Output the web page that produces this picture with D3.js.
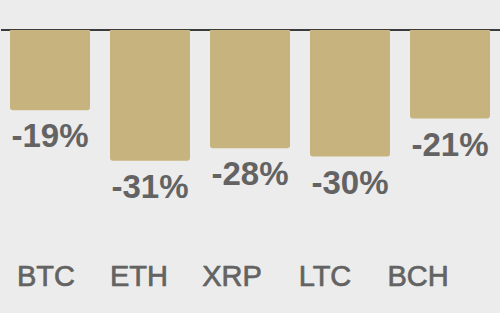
<!doctype html>
<html lang='en'>
  <head>
    <meta charset="utf-8">
    <script src="https://d3js.org/d3.v7.min.js"></script>
    <style>
    body{
      margin: 0;
      background: #ececec;
    }
    text {
      font-family: "Liberation Sans", Arial, sans-serif;
      fill: #636363;
    }
    </style>
  </head>
  <body>
    <div id='chart'></div>
    <script>
    const coins = ['BTC','ETH','XRP','LTC','BCH'];
    const changes = [-19,-31,-28,-30,-21];

    const w = 500;
    const h = 313;
    const top0 = 30;

    const svg = d3.select('#chart')
                  .append('svg')
                  .attr('width',w)
                  .attr('height',h);

    const xScale = d3.scaleBand()
                     .domain(coins)
                     .range([0,w])
                     .paddingInner(0.2)
                     .paddingOuter(0.1);

    const yScale = d3.scaleLinear()
                     .domain([-35,0])
                     .range([top0 + 35*4.22, top0]);

    // label row at the bottom is spaced on its own
    const labelScale = d3.scalePoint()
                         .domain(coins)
                         .range([46,418]);

    // bar with rounded bottom corners
    function barPath(x, y0, bw, y1, r) {
      return 'M' + x + ',' + y0 +
             'H' + (x+bw) +
             'V' + (y1-r) +
             'Q' + (x+bw) + ',' + y1 + ' ' + (x+bw-r) + ',' + y1 +
             'H' + (x+r) +
             'Q' + x + ',' + y1 + ' ' + x + ',' + (y1-r) +
             'Z';
    }

    svg.append('line')
       .attr('x1',1)
       .attr('x2',w)
       .attr('y1',yScale(0))
       .attr('y2',yScale(0))
       .attr('stroke','black')
       .attr('stroke-width',1.6);

    const data = coins.map((c,i) => ({coin: c, val: changes[i]}));

    svg.selectAll('path.bar')
       .data(data)
       .enter()
       .append('path')
       .attr('class','bar')
       .attr('fill','#c6b37e')
       .attr('d', d => barPath(xScale(d.coin), yScale(0), xScale.bandwidth(), yScale(d.val), 3));

    svg.selectAll('text.val')
       .data(data)
       .enter()
       .append('text')
       .attr('class','val')
       .attr('x', d => xScale(d.coin) + xScale.bandwidth()/2)
       .attr('y', d => yScale(d.val) + 37)
       .attr('text-anchor','middle')
       .style('font-size','33px')
       .style('font-weight','bold')
       .text(d => d.val + '%');

    // medium-ish weight: regular face with a thin stroke
    svg.selectAll('text.coin')
       .data(coins)
       .enter()
       .append('text')
       .attr('class','coin')
       .attr('x', c => labelScale(c))
       .attr('y', 286)
       .attr('text-anchor','middle')
       .style('font-size','29px')
       .style('stroke','#636363')
       .style('stroke-width','0.7px')
       .text(c => c);
    </script>
  </body>
</html>
